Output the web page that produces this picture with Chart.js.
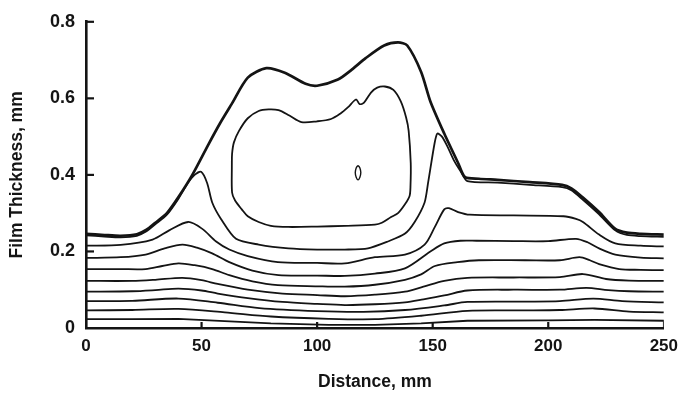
<!DOCTYPE html>
<html>
<head>
<meta charset="utf-8">
<script src="https://cdn.jsdelivr.net/npm/chart.js@4/dist/chart.umd.min.js"></script>
<style>
  html, body { margin: 0; padding: 0; background: #fff; }
  #wrap { width: 686px; height: 399px; position: relative; }
</style>
</head>
<body>
<div id="wrap"><canvas id="chart-film"></canvas></div>
<script>
// Film thickness profiles along the plate (mm vs mm)

// Free surface (outermost contour)
const surfX = [0, 8, 15, 22, 26, 30, 35, 40, 46, 53, 58, 63, 70, 78, 86, 95, 100, 109, 115, 121, 129, 135, 139, 145, 149, 155, 161, 164, 170, 178, 192, 206, 210, 215, 222, 229, 234, 240, 250];
const surfY = [0.246, 0.243, 0.241, 0.245, 0.256, 0.275, 0.30, 0.342, 0.40, 0.48, 0.535, 0.585, 0.654, 0.679, 0.667, 0.638, 0.633, 0.649, 0.675, 0.705, 0.738, 0.746, 0.738, 0.669, 0.592, 0.508, 0.431, 0.394, 0.39, 0.387, 0.381, 0.374, 0.365, 0.341, 0.303, 0.259, 0.249, 0.246, 0.244];

// Inner contours, top to bottom
const lvl1X = [0, 8, 15, 22, 26, 30, 35, 40, 44, 47, 49.8, 52.4, 54.6, 58.4, 64.9, 74.7, 87.6, 100, 112, 122, 130.6, 137.9, 142.2, 146.5, 148, 150.8, 152, 154, 156.4, 159, 162, 165, 178, 192, 206, 210, 215, 222, 229, 234, 240, 250];
const lvl1Y = [0.242, 0.239, 0.237, 0.241, 0.252, 0.271, 0.296, 0.338, 0.378, 0.400, 0.408, 0.379, 0.328, 0.285, 0.233, 0.218, 0.208, 0.205, 0.205, 0.208, 0.226, 0.246, 0.277, 0.328, 0.379, 0.482, 0.508, 0.50, 0.474, 0.44, 0.41, 0.384, 0.38, 0.374, 0.368, 0.36, 0.335, 0.297, 0.255, 0.243, 0.240, 0.238];

const lvl2X = [0, 15, 28.8, 36, 44.2, 50.3, 56.3, 62, 70, 83, 100, 112, 125, 138, 146.5, 151, 155, 157, 161, 166, 185, 206.6, 212, 215, 222, 229, 240, 250];
const lvl2Y = [0.215, 0.217, 0.231, 0.255, 0.277, 0.259, 0.226, 0.205, 0.188, 0.172, 0.170, 0.169, 0.185, 0.192, 0.218, 0.265, 0.31, 0.313, 0.303, 0.296, 0.294, 0.292, 0.285, 0.277, 0.244, 0.221, 0.215, 0.213];

const lvl3X = [0, 15, 25.8, 34, 41.7, 48, 54.6, 62, 72, 83.3, 100, 112, 125, 138, 149, 155, 162, 169, 185, 200, 212, 217, 222, 229, 240, 250];
const lvl3Y = [0.183, 0.185, 0.192, 0.208, 0.218, 0.21, 0.195, 0.172, 0.15, 0.138, 0.137, 0.136, 0.142, 0.156, 0.2, 0.221, 0.228, 0.228, 0.227, 0.227, 0.233, 0.224, 0.208, 0.192, 0.184, 0.182];

const lvl4X = [0, 15, 25.8, 33, 40, 47, 54.6, 62, 72, 83, 100, 112, 125, 138, 145, 151, 160.7, 170, 190, 205, 213.5, 218, 222, 230.7, 240, 250];
const lvl4Y = [0.154, 0.154, 0.154, 0.162, 0.169, 0.164, 0.154, 0.138, 0.122, 0.112, 0.109, 0.108, 0.113, 0.126, 0.14, 0.162, 0.172, 0.177, 0.177, 0.177, 0.185, 0.177, 0.167, 0.154, 0.152, 0.151];

const lvl5X = [0, 20, 30, 41.7, 50, 57, 70, 85, 100, 112, 125, 138, 146, 155, 165, 185, 205, 215, 225, 235, 250];
const lvl5Y = [0.123, 0.123, 0.126, 0.131, 0.125, 0.115, 0.1, 0.09, 0.086, 0.083, 0.087, 0.095, 0.108, 0.123, 0.131, 0.132, 0.133, 0.141, 0.128, 0.124, 0.123];

const lvl6X = [0, 20, 30, 40, 50, 57, 70, 85, 100, 112, 125, 138, 146, 155, 165, 185, 205, 216.5, 226, 235, 250];
const lvl6Y = [0.095, 0.096, 0.099, 0.103, 0.098, 0.09, 0.078, 0.068, 0.063, 0.06, 0.062, 0.067, 0.075, 0.085, 0.098, 0.1, 0.1, 0.105, 0.099, 0.096, 0.095];

const lvl7X = [0, 20, 40, 57, 75, 100, 120, 138, 155, 165, 190, 205, 219.5, 232, 250];
const lvl7Y = [0.07, 0.071, 0.077, 0.066, 0.052, 0.044, 0.042, 0.047, 0.059, 0.068, 0.069, 0.07, 0.077, 0.07, 0.067];

const lvl8X = [0, 20, 40, 60, 80, 105, 125, 145, 165, 190, 205, 220, 235, 250];
const lvl8Y = [0.046, 0.047, 0.05, 0.041, 0.03, 0.024, 0.023, 0.032, 0.045, 0.046, 0.047, 0.051, 0.043, 0.041];

const lvl9X = [0, 20, 40, 60, 80, 105, 125, 145, 165, 200, 220, 250, 250];
const lvl9Y = [0.023, 0.023, 0.024, 0.018, 0.012, 0.008, 0.008, 0.012, 0.019, 0.02, 0.021, 0.019, 0];

// Closed loop inside the bulge
const loopX = [63.1, 63.2, 64, 66.2, 70, 74.7, 79, 83.3, 88, 93.2, 100, 106, 110, 113.4, 116.8, 118.4, 120.3, 123.3, 126, 129.3, 133, 136.2, 138.5, 139.6, 140.5, 140.4, 140, 138, 135, 132, 128, 125, 112, 100, 87.6, 80, 74.7, 70, 67.4, 64.5, 63.2, 63.1];
const loopY = [0.423, 0.455, 0.485, 0.515, 0.548, 0.567, 0.571, 0.569, 0.555, 0.538, 0.54, 0.546, 0.56, 0.577, 0.597, 0.585, 0.589, 0.615, 0.628, 0.631, 0.622, 0.592, 0.55, 0.515, 0.431, 0.372, 0.345, 0.323, 0.3, 0.29, 0.275, 0.270, 0.267, 0.265, 0.264, 0.267, 0.277, 0.292, 0.31, 0.333, 0.354, 0.423];

// Small island near x = 118
const islandX = [117.7, 118.5, 118.9, 118.5, 117.7, 116.9, 116.5, 116.9, 117.7];
const islandY = [0.425, 0.418, 0.406, 0.394, 0.387, 0.394, 0.406, 0.418, 0.425];

const xTicks = [0, 50, 100, 150, 200, 250];
const yTicks = [0, 0.2, 0.4, 0.6, 0.8];

const INK = '#141414';
const FONT = "'Liberation Sans', Arial, sans-serif";

const toPoints = (xs, ys) => xs.map((x, i) => ({ x: x, y: ys[i] }));

const curve = (xs, ys, width, tension) => ({
    data: toPoints(xs, ys),
    showLine: true,
    borderColor: INK,
    borderWidth: width,
    pointRadius: 0,
    tension: tension,
    fill: false
});

// Tick marks point into the plot area
const inwardTicks = {
    id: 'inwardTicks',
    afterDatasetsDraw(chart) {
        const { ctx, scales: { x, y } } = chart;
        ctx.save();
        ctx.strokeStyle = INK;
        ctx.lineWidth = 2.2;
        xTicks.slice(1, -1).forEach(v => {
            const px = x.getPixelForValue(v);
            ctx.beginPath();
            ctx.moveTo(px, y.bottom);
            ctx.lineTo(px, y.bottom - 6);
            ctx.stroke();
        });
        yTicks.slice(1).forEach(v => {
            const py = y.getPixelForValue(v);
            ctx.beginPath();
            ctx.moveTo(x.left, py);
            ctx.lineTo(x.left + 8, py);
            ctx.stroke();
        });
        ctx.restore();
    }
};

function renderFilmChart() {
    const ctx = document.getElementById('chart-film').getContext('2d');

    new Chart(ctx, {
        type: 'scatter',
        data: {
            datasets: [
                curve(surfX, surfY, 2.7, 0.25),
                curve(lvl1X, lvl1Y, 1.8, 0.25),
                curve(lvl2X, lvl2Y, 1.8, 0.3),
                curve(lvl3X, lvl3Y, 1.8, 0.3),
                curve(lvl4X, lvl4Y, 1.8, 0.3),
                curve(lvl5X, lvl5Y, 1.8, 0.3),
                curve(lvl6X, lvl6Y, 1.8, 0.3),
                curve(lvl7X, lvl7Y, 1.8, 0.3),
                curve(lvl8X, lvl8Y, 1.8, 0.3),
                curve(lvl9X, lvl9Y, 1.8, 0),
                curve(loopX, loopY, 1.8, 0.3),
                curve(islandX, islandY, 1.4, 0.4)
            ]
        },
        options: {
            responsive: true,
            maintainAspectRatio: false,
            animation: false,
            layout: { padding: { left: 0, right: 18, top: 16, bottom: 0 } },
            plugins: {
                legend: { display: false },
                tooltip: { enabled: false }
            },
            scales: {
                x: {
                    type: 'linear',
                    min: 0,
                    max: 250,
                    afterBuildTicks: s => { s.ticks = xTicks.map(v => ({ value: v })); },
                    afterFit: s => { s.height = 71; },
                    grid: { display: false, drawTicks: false },
                    border: { display: true, color: INK, width: 2.6 },
                    ticks: {
                        font: { family: FONT, size: 17, weight: 'bold' },
                        color: INK,
                        padding: 8,
                        maxRotation: 0
                    },
                    title: {
                        display: true,
                        text: 'Distance, mm',
                        font: { family: FONT, size: 17.5, weight: 'bold' },
                        color: INK,
                        padding: { top: 4, bottom: 6 }
                    }
                },
                y: {
                    type: 'linear',
                    min: 0,
                    max: 0.8,
                    afterBuildTicks: s => { s.ticks = yTicks.map(v => ({ value: v })); },
                    afterFit: s => { s.width = 86; },
                    grid: { display: false, drawTicks: false },
                    border: { display: true, color: INK, width: 2.6 },
                    ticks: {
                        font: { family: FONT, size: 18, weight: 'bold' },
                        color: INK,
                        padding: 11,
                        callback: v => (v === 0 ? '0' : v.toFixed(1))
                    },
                    title: {
                        display: true,
                        text: 'Film Thickness, mm',
                        font: { family: FONT, size: 17.5, weight: 'bold' },
                        color: INK,
                        padding: { top: 7, bottom: 4 }
                    }
                }
            }
        },
        plugins: [inwardTicks]
    });
}

document.addEventListener('DOMContentLoaded', renderFilmChart);
</script>
</body>
</html>
